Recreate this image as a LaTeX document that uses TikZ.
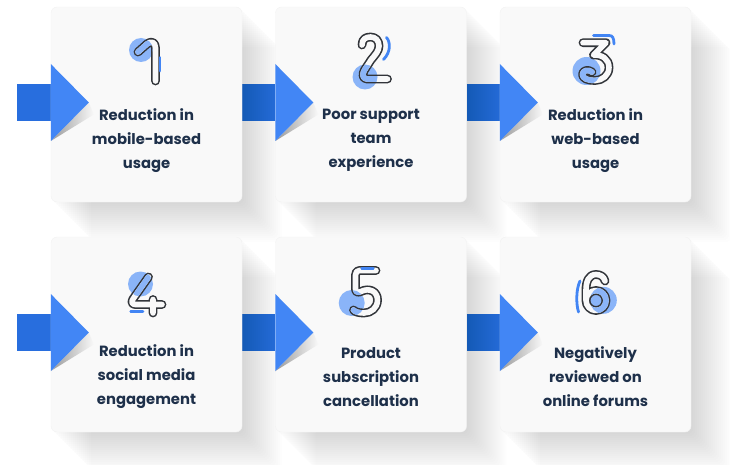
\documentclass[tikz,border=0pt]{standalone}
\usepackage{fontspec}
\setmainfont{Poppins}
\usetikzlibrary{calc,backgrounds}
\definecolor{cardbg}{RGB}{249,249,249}
\definecolor{navy}{RGB}{30,48,74}
\definecolor{numgray}{RGB}{50,53,58}
\definecolor{dotblue}{RGB}{138,180,248}
\definecolor{accent}{RGB}{66,133,244}
\definecolor{barblue}{RGB}{40,110,222}
\definecolor{tipblue}{RGB}{66,134,245}
\tikzset{
  cardbox/.style={fill=cardbg,draw=black!5,rounded corners=6pt,
    minimum width=191pt,minimum height=195pt,inner sep=0pt},
  cardtext/.style={text=navy,align=center,font=\bfseries\fontsize{14.8}{24}\selectfont},
  flowbar/.style={draw=barblue,line width=36.5pt},
  longshadow/.style={fill=black,opacity=0.008,rounded corners=6pt},
  numout/.style={draw=numgray,line width=8.8pt,line cap=round,line join=round},
  numin/.style={draw=cardbg,line width=5.6pt,line cap=round,line join=round},
  numaccent/.style={draw=accent,line width=2.8pt,line cap=round},
  % arrow head sitting on a card
  pics/tiphead/.style={code={
    \shade[left color=black!40,right color=cardbg] (38,0) -- (43,12) -- (0,38.5) -- cycle;
    \fill[tipblue] (0,-38.5) -- (38,0) -- (0,38.5) -- cycle;
  }},
}
% outlined digit: shift, dot, stroke, accent
\newcommand{\numicon}[4]{%
  \begin{scope}[shift={#1}]
    \fill[dotblue] #2;
    \draw[numout] #3;
    \draw[numin] #3;
    \begin{scope}
      \clip #2;
      \draw[numin,draw=dotblue] #3;
    \end{scope}
    \draw[numaccent] #4;
  \end{scope}}

\begin{document}
\begin{tikzpicture}[x=1pt,y=-1pt]
  \useasboundingbox (0,0) rectangle (730,465);
  % cards
  \node[cardbox] (c1) at (146.5,104.5) {};
  \node[cardbox] (c2) at (371,104.5) {};
  \node[cardbox] (c3) at (595.5,104.5) {};
  \node[cardbox] (c4) at (146.5,334.5) {};
  \node[cardbox] (c5) at (371,334.5) {};
  \node[cardbox] (c6) at (595.5,334.5) {};
  \coordinate (s1) at (17,102.5);
  \coordinate (s4) at (17,332.5);
  \begin{scope}[on background layer]
    \draw[flowbar] (s1) -- ([yshift=2pt]c1.west);
    \draw[flowbar] ([yshift=2pt]c1.east) -- ([yshift=2pt]c2.west);
    \draw[flowbar] ([yshift=2pt]c2.east) -- ([yshift=2pt]c3.west);
    \draw[flowbar] (s4) -- ([yshift=2pt]c4.west);
    \draw[flowbar] ([yshift=2pt]c4.east) -- ([yshift=2pt]c5.west);
    \draw[flowbar] ([yshift=2pt]c5.east) -- ([yshift=2pt]c6.west);
    \foreach \c in {c1,c2,c3,c4,c5,c6}
      \foreach \s in {2,4,...,40}
        \fill[longshadow] ($(\c.south west)+(\s,\s)$) rectangle ($(\c.north east)+(\s,\s)$);
  \end{scope}
  \foreach \c in {c1,c2,c3,c4,c5,c6}
    \pic at ([yshift=2pt]\c.west) {tiphead};

  % digits
  \numicon{(118,28)}{(23,22) circle (12)}
    {(20,24) -- (29,16) .. controls (33,12.5) and (37.5,14) .. (37.5,20) -- (37.5,53)}
    {(41.9,29.5) -- (41.9,43)}
  \numicon{(340,28)}{(25,49) circle (12.5)}
    {(22,17) .. controls (22,11) and (26,9) .. (30.5,9) .. controls (35.5,9) and (39,12.5) .. (39,18)
     .. controls (39,23) and (35,27) .. (31,32) -- (24.5,42) .. controls (22,46) and (22.5,51) .. (27,51) -- (47.5,51)}
    {(46.5,9.5) .. controls (50.5,14) and (51,24) .. (43.5,31.5)}
  \numicon{(565,28)}{(21.5,43) circle (14)}
    {(18,14.7) -- (41,14.7) -- (28.5,27) .. controls (37,26.5) and (44,31) .. (44,39.5)
     .. controls (44,47.5) and (37,52.5) .. (30,52.5) .. controls (23,52.5) and (17.5,50.5) .. (17.5,46.5)
     .. controls (17.5,42.5) and (23,41) .. (27,44)}
    {(28.5,7.5) -- (44,7.5) .. controls (47.5,7.5) and (49,10) .. (49,16)}
  \numicon{(118,262)}{(22.5,22) circle (12.5)}
    {(30.5,15) -- (15,37) .. controls (13,40) and (14,42.5) .. (17.5,42.5) -- (44,42.5) (35,37.5) -- (35,51)}
    {(12.7,49.5) -- (25,49.5)}
  \numicon{(335,258)}{(16.7,45) circle (13)}
    {(41,12.5) -- (24.5,12.5) .. controls (22,12.5) and (20.5,14) .. (20.5,17) -- (20.5,31)
     .. controls (20.5,34) and (23,35) .. (26,33.5) .. controls (34,29.5) and (42.5,33) .. (42.5,42)
     .. controls (42.5,50) and (36,55) .. (29,55) .. controls (24,55) and (20,54) .. (18.5,52)}
    {(26.7,10.5) -- (38.3,10.5)}
  \numicon{(565,262)}{(38.3,38.3) circle (13.5)}
    {(40,19) .. controls (39,14.5) and (35,12.5) .. (31,12.5) .. controls (24,12.5) and (21,19) .. (21,28)
     -- (21,38.5) (31,38.5) circle (10)}
    {(15,19) .. controls (11,27) and (11,42) .. (13.5,50)}

  % labels
  \node[cardtext] (t1) at (146.5,140.5) {Reduction in\\mobile-based\\usage};
  \node[cardtext] (t2) at (371,140.5) {Poor support\\team\\experience};
  \node[cardtext] (t3) at (595.5,140.5) {Reduction in\\web-based\\usage};
  \node[cardtext] (t4) at (146.5,377) {Reduction in\\social media\\engagement};
  \node[cardtext] (t5) at (371,377) {Product\\subscription\\cancellation};
  \node[cardtext] (t6) at (595.5,377) {Negatively\\reviewed on\\online forums};
\end{tikzpicture}
\end{document}
